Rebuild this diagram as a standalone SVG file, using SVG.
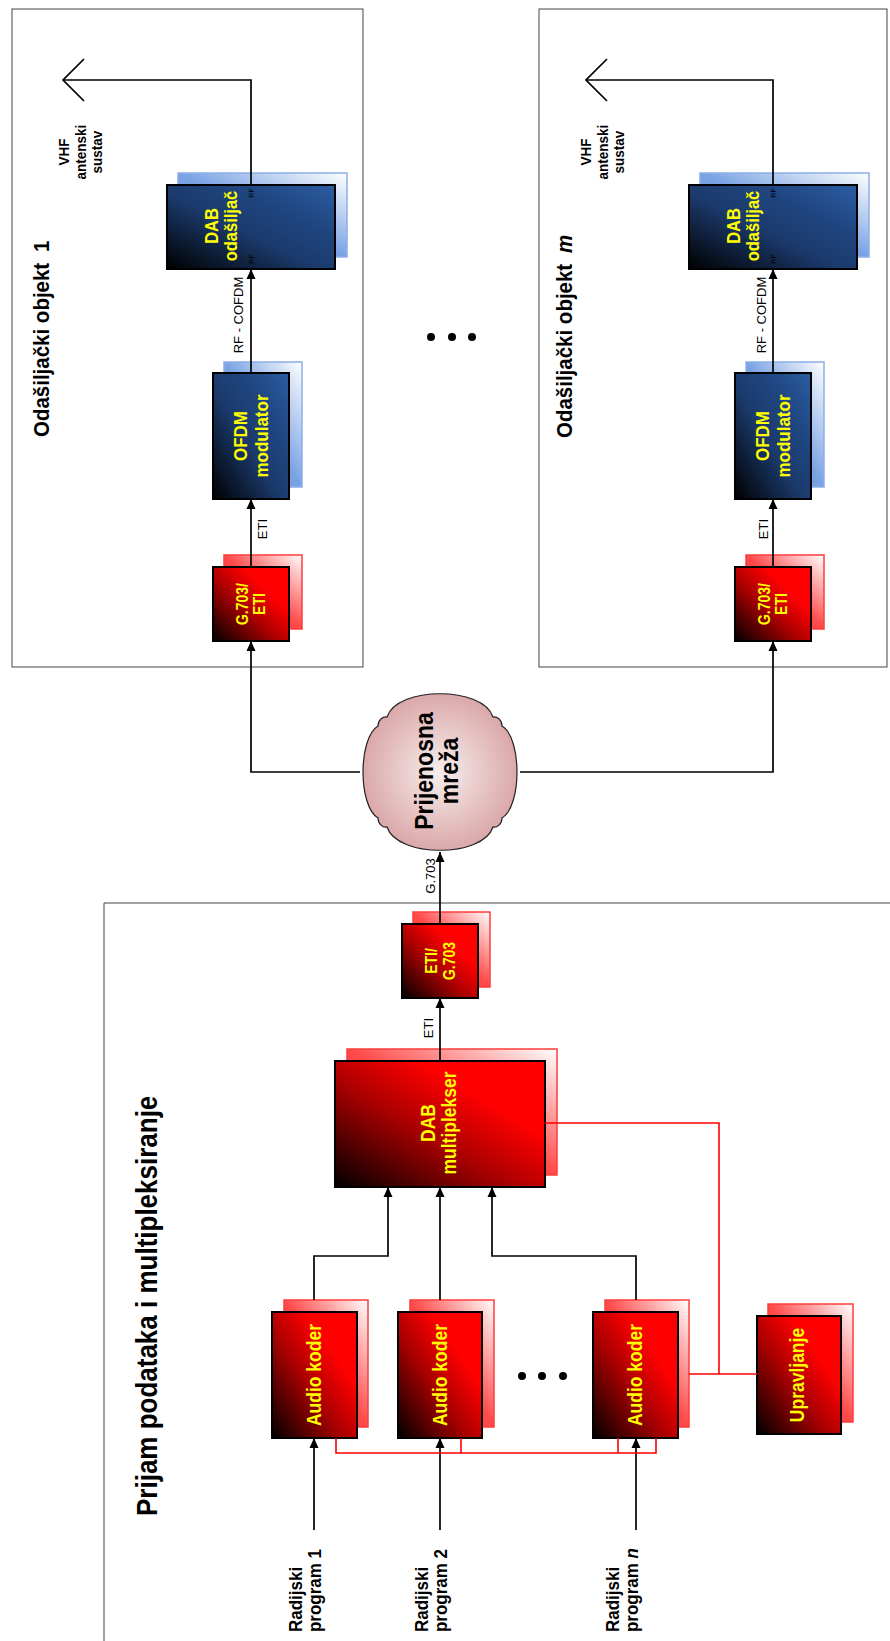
<svg xmlns="http://www.w3.org/2000/svg" width="890" height="1641" viewBox="0 0 890 1641">
<defs>
  <linearGradient id="gRed" x1="0" y1="1" x2="1" y2="0">
    <stop offset="0" stop-color="#000000"/>
    <stop offset="0.42" stop-color="#a80000"/>
    <stop offset="0.7" stop-color="#ff0000"/>
    <stop offset="1" stop-color="#ff0000"/>
  </linearGradient>
  <linearGradient id="gRedSh" x1="0" y1="1" x2="1" y2="0">
    <stop offset="0" stop-color="#ff2a2a"/>
    <stop offset="0.5" stop-color="#ff4a4a"/>
    <stop offset="1" stop-color="#ffffff"/>
  </linearGradient>
  <linearGradient id="gBlue" x1="0" y1="1" x2="1" y2="0">
    <stop offset="0" stop-color="#000000"/>
    <stop offset="0.45" stop-color="#1b3a6c"/>
    <stop offset="0.7" stop-color="#1f4680"/>
    <stop offset="1" stop-color="#2b5ca3"/>
  </linearGradient>
  <linearGradient id="gBlueSh" x1="0" y1="1" x2="1" y2="0">
    <stop offset="0" stop-color="#5f8fdc"/>
    <stop offset="0.5" stop-color="#7aa3e4"/>
    <stop offset="1" stop-color="#ffffff"/>
  </linearGradient>
  <radialGradient id="gCloud" cx="0.5" cy="0.5" r="0.55">
    <stop offset="0" stop-color="#f8eeee"/>
    <stop offset="1" stop-color="#d8a2a2"/>
  </radialGradient>
  <marker id="arr" markerUnits="userSpaceOnUse" markerWidth="10" markerHeight="10" refX="10" refY="5" orient="auto">
    <path d="M0,0.5 L10,5 L0,9.5 z" fill="#000"/>
  </marker>
  <style>
    text { font-family: "Liberation Sans", Arial, sans-serif; }
    .frame { fill: none; stroke: #444; stroke-width: 1; }
    .rbox { fill: url(#gRed); stroke: #000; stroke-width: 2; }
    .rsh { fill: url(#gRedSh); stroke: #ff3c3c; stroke-width: 1.5; }
    .bbox { fill: url(#gBlue); stroke: #000; stroke-width: 2; }
    .bsh { fill: url(#gBlueSh); stroke: #8caee6; stroke-width: 1.5; }
    .yt { fill: #ffff00; font-weight: bold; text-anchor: middle; }
    .ln { fill: none; stroke: #000; stroke-width: 1.7; }
    .rl { fill: none; stroke: #ff0000; stroke-width: 1.6; }
    .title { font-weight: bold; font-size: 20.5px; fill: #000; }
    .lab { font-size: 13px; fill: #000; text-anchor: middle; }
    .vhf { font-weight: bold; font-size: 13.5px; fill: #000; text-anchor: middle; }
    .rf { font-size: 7px; fill: #000; text-anchor: middle; }
    .prog { font-weight: bold; font-size: 17px; fill: #000; }
    .dot { fill: #000; }
  </style>
</defs>

<rect width="890" height="1641" fill="#ffffff"/>

<!-- Site 1 -->
<g id="site-1">
  <rect class="frame" x="12" y="9" width="351" height="658"/>
  <text class="title" x="49" y="437" transform="translate(49 437) rotate(-90) scale(1 1.12) translate(-49 -437)">Odašiljački objekt <tspan dx="5">1</tspan></text>
</g>
<g id="antenna-1">
  <polyline class="ln" points="84,59 63,80 84,101"/>
  <text class="vhf" x="69" y="152" transform="translate(69 152) rotate(-90) scale(1 1.12) translate(-69 -152)">VHF</text>
  <text class="vhf" x="86" y="152" transform="translate(86 152) rotate(-90) scale(1 1.12) translate(-86 -152)">antenski</text>
  <text class="vhf" x="102" y="152" transform="translate(102 152) rotate(-90) scale(1 1.12) translate(-102 -152)">sustav</text>
</g>
<g id="dab-tx-1">
  <rect class="bsh" x="178" y="173" width="169" height="84"/>
  <rect class="bbox" x="167" y="185" width="168" height="84"/>
  <text class="yt" font-size="16.5" x="218" y="226" transform="translate(218 226) rotate(-90) scale(1 1.12) translate(-218 -226)">DAB</text>
  <text class="yt" font-size="16.5" x="237" y="226" transform="translate(237 226) rotate(-90) scale(1 1.12) translate(-237 -226)">odašiljač</text>
  <text class="rf" x="254" y="193" transform="rotate(-90 254 193)">RF</text>
  <text class="rf" x="254" y="259" transform="rotate(-90 254 259)">RF</text>
</g>
<g id="ofdm-1">
  <rect class="bsh" x="224" y="362" width="78" height="125"/>
  <rect class="bbox" x="213" y="373" width="76" height="126"/>
  <text class="yt" font-size="17" x="247" y="436" transform="translate(247 436) rotate(-90) scale(1 1.12) translate(-247 -436)">OFDM</text>
  <text class="yt" font-size="17" x="268" y="436" transform="translate(268 436) rotate(-90) scale(1 1.12) translate(-268 -436)">modulator</text>
</g>
<g id="g703-eti-1">
  <rect class="rsh" x="224" y="555" width="78" height="74"/>
  <rect class="rbox" x="213" y="567" width="76" height="74"/>
  <text class="yt" font-size="14" x="248" y="604" transform="translate(248 604) rotate(-90) scale(1 1.12) translate(-248 -604)">G.703/</text>
  <text class="yt" font-size="14" x="265" y="604" transform="translate(265 604) rotate(-90) scale(1 1.12) translate(-265 -604)">ETI</text>
</g>

<!-- Site m -->
<g id="site-m">
  <rect class="frame" x="539" y="9" width="348" height="658"/>
  <text class="title" x="572" y="438" transform="translate(572 438) rotate(-90) scale(1 1.12) translate(-572 -438)">Odašiljački objekt <tspan dx="5" font-style="italic">m</tspan></text>
</g>
<g id="antenna-m">
  <polyline class="ln" points="607,59 586,80 607,101"/>
  <text class="vhf" x="591" y="152" transform="translate(591 152) rotate(-90) scale(1 1.12) translate(-591 -152)">VHF</text>
  <text class="vhf" x="608" y="152" transform="translate(608 152) rotate(-90) scale(1 1.12) translate(-608 -152)">antenski</text>
  <text class="vhf" x="624" y="152" transform="translate(624 152) rotate(-90) scale(1 1.12) translate(-624 -152)">sustav</text>
</g>
<g id="dab-tx-m">
  <rect class="bsh" x="700" y="173" width="169" height="84"/>
  <rect class="bbox" x="689" y="185" width="168" height="84"/>
  <text class="yt" font-size="16.5" x="740" y="226" transform="translate(740 226) rotate(-90) scale(1 1.12) translate(-740 -226)">DAB</text>
  <text class="yt" font-size="16.5" x="759" y="226" transform="translate(759 226) rotate(-90) scale(1 1.12) translate(-759 -226)">odašiljač</text>
  <text class="rf" x="776" y="193" transform="rotate(-90 776 193)">RF</text>
  <text class="rf" x="776" y="259" transform="rotate(-90 776 259)">RF</text>
</g>
<g id="ofdm-m">
  <rect class="bsh" x="746" y="362" width="78" height="125"/>
  <rect class="bbox" x="735" y="373" width="76" height="126"/>
  <text class="yt" font-size="17" x="769" y="436" transform="translate(769 436) rotate(-90) scale(1 1.12) translate(-769 -436)">OFDM</text>
  <text class="yt" font-size="17" x="790" y="436" transform="translate(790 436) rotate(-90) scale(1 1.12) translate(-790 -436)">modulator</text>
</g>
<g id="g703-eti-m">
  <rect class="rsh" x="746" y="555" width="78" height="74"/>
  <rect class="rbox" x="735" y="567" width="76" height="74"/>
  <text class="yt" font-size="14" x="770" y="604" transform="translate(770 604) rotate(-90) scale(1 1.12) translate(-770 -604)">G.703/</text>
  <text class="yt" font-size="14" x="787" y="604" transform="translate(787 604) rotate(-90) scale(1 1.12) translate(-787 -604)">ETI</text>
</g>

<g id="sites-ellipsis">
  <circle class="dot" cx="431" cy="337" r="4"/>
  <circle class="dot" cx="452" cy="337" r="4"/>
  <circle class="dot" cx="472" cy="337" r="4"/>
</g>

<!-- Network cloud -->
<g id="network">
  <path d="M387,717 C397,686 483,686 493,717 C497,716 502,720 502,726 C522,738 522,806 502,818 C502,824 497,828 493,827 C483,858 397,858 387,827 C383,828 378,824 378,818 C358,806 358,738 378,726 C378,720 383,716 387,717 Z" fill="url(#gCloud)" stroke="#222" stroke-width="1.2"/>
  <text x="433" y="771" font-size="23" font-weight="bold" text-anchor="middle" transform="translate(433 771) rotate(-90) scale(1 1.1) translate(-433 -771)">Prijenosna</text>
  <text x="458" y="771" font-size="23" font-weight="bold" text-anchor="middle" transform="translate(458 771) rotate(-90) scale(1 1.1) translate(-458 -771)">mreža</text>
</g>

<!-- Lower section -->
<g id="mux-site">
  <path class="frame" d="M895,903 H104 V1650"/>
  <text x="157" y="1516" font-size="26" font-weight="bold" transform="translate(157 1516) rotate(-90) scale(1 1.12) translate(-157 -1516)">Prijam podataka i multipleksiranje</text>
</g>
<g id="eti-g703">
  <rect class="rsh" x="413" y="912" width="77" height="75"/>
  <rect class="rbox" x="402" y="924" width="76" height="74"/>
  <text class="yt" font-size="14" x="437" y="961" transform="translate(437 961) rotate(-90) scale(1 1.12) translate(-437 -961)">ETI/</text>
  <text class="yt" font-size="14" x="455" y="961" transform="translate(455 961) rotate(-90) scale(1 1.12) translate(-455 -961)">G.703</text>
</g>
<g id="dab-mux">
  <rect class="rsh" x="347" y="1049" width="210" height="126"/>
  <rect class="rbox" x="335" y="1061" width="210" height="126"/>
  <text class="yt" font-size="17.5" x="435" y="1123" transform="translate(435 1123) rotate(-90) scale(1 1.12) translate(-435 -1123)">DAB</text>
  <text class="yt" font-size="17.5" x="456" y="1123" transform="translate(456 1123) rotate(-90) scale(1 1.12) translate(-456 -1123)">multiplekser</text>
</g>
<g id="audio-coder-1">
  <rect class="rsh" x="284" y="1300" width="84" height="127"/>
  <rect class="rbox" x="272" y="1312" width="85" height="126"/>
  <text class="yt" font-size="17.5" x="321" y="1375" transform="translate(321 1375) rotate(-90) scale(1 1.12) translate(-321 -1375)">Audio koder</text>
</g>
<g id="audio-coder-2">
  <rect class="rsh" x="410" y="1300" width="84" height="127"/>
  <rect class="rbox" x="398" y="1312" width="84" height="126"/>
  <text class="yt" font-size="17.5" x="447" y="1375" transform="translate(447 1375) rotate(-90) scale(1 1.12) translate(-447 -1375)">Audio koder</text>
</g>
<g id="audio-coder-n">
  <rect class="rsh" x="605" y="1300" width="84" height="127"/>
  <rect class="rbox" x="593" y="1312" width="85" height="126"/>
  <text class="yt" font-size="17.5" x="642" y="1375" transform="translate(642 1375) rotate(-90) scale(1 1.12) translate(-642 -1375)">Audio koder</text>
</g>
<g id="control">
  <rect class="rsh" x="768" y="1304" width="85" height="118"/>
  <rect class="rbox" x="757" y="1316" width="84" height="118"/>
  <text class="yt" font-size="17.5" x="804" y="1375" transform="translate(804 1375) rotate(-90) scale(1 1.12) translate(-804 -1375)">Upravljanje</text>
</g>
<g id="coders-ellipsis">
  <circle class="dot" cx="522" cy="1376" r="4"/>
  <circle class="dot" cx="542" cy="1376" r="4"/>
  <circle class="dot" cx="563" cy="1376" r="4"/>
</g>
<g id="program-1">
  <text class="prog" x="302" y="1632" transform="translate(302 1632) rotate(-90) scale(1 1.12) translate(-302 -1632)">Radijski</text>
  <text class="prog" x="321" y="1632" transform="translate(321 1632) rotate(-90) scale(1 1.12) translate(-321 -1632)">program 1</text>
</g>
<g id="program-2">
  <text class="prog" x="428" y="1632" transform="translate(428 1632) rotate(-90) scale(1 1.12) translate(-428 -1632)">Radijski</text>
  <text class="prog" x="447" y="1632" transform="translate(447 1632) rotate(-90) scale(1 1.12) translate(-447 -1632)">program 2</text>
</g>
<g id="program-n">
  <text class="prog" x="619" y="1632" transform="translate(619 1632) rotate(-90) scale(1 1.12) translate(-619 -1632)">Radijski</text>
  <text class="prog" x="638" y="1632" transform="translate(638 1632) rotate(-90) scale(1 1.12) translate(-638 -1632)">program <tspan font-style="italic">n</tspan></text>
</g>

<!-- Connectors -->
<g id="connectors">
  <!-- site 1 -->
  <polyline class="ln" points="63,80 251,80 251,185"/>
  <line class="ln" x1="251" y1="373" x2="251" y2="269" marker-end="url(#arr)"/>
  <line class="ln" x1="251" y1="567" x2="251" y2="499" marker-end="url(#arr)"/>
  <polyline class="ln" points="360,772 251,772 251,641" marker-end="url(#arr)"/>
  <text class="lab" x="243" y="315" transform="rotate(-90 243 315)">RF - COFDM</text>
  <text class="lab" x="267" y="529" transform="rotate(-90 267 529)" font-size="12.5">ETI</text>
  <!-- site m -->
  <polyline class="ln" points="586,80 773,80 773,185"/>
  <line class="ln" x1="773" y1="373" x2="773" y2="269" marker-end="url(#arr)"/>
  <line class="ln" x1="773" y1="567" x2="773" y2="499" marker-end="url(#arr)"/>
  <polyline class="ln" points="520,772 773,772 773,641" marker-end="url(#arr)"/>
  <text class="lab" x="766" y="315" transform="rotate(-90 766 315)">RF - COFDM</text>
  <text class="lab" x="768" y="529" transform="rotate(-90 768 529)" font-size="12.5">ETI</text>
  <!-- mux -> network -->
  <line class="ln" x1="440" y1="924" x2="440" y2="852" marker-end="url(#arr)"/>
  <text class="lab" x="435" y="876" transform="rotate(-90 435 876)">G.703</text>
  <line class="ln" x1="440" y1="1061" x2="440" y2="998" marker-end="url(#arr)"/>
  <text class="lab" x="433" y="1028" transform="rotate(-90 433 1028)" font-size="12.5">ETI</text>
  <!-- coders -> mux -->
  <polyline class="ln" points="314,1300 314,1256 388,1256 388,1187" marker-end="url(#arr)"/>
  <line class="ln" x1="440" y1="1300" x2="440" y2="1187" marker-end="url(#arr)"/>
  <polyline class="ln" points="636,1300 636,1256 492,1256 492,1187" marker-end="url(#arr)"/>
  <!-- programs -> coders -->
  <line class="ln" x1="314" y1="1530" x2="314" y2="1438" marker-end="url(#arr)"/>
  <line class="ln" x1="440" y1="1530" x2="440" y2="1438" marker-end="url(#arr)"/>
  <line class="ln" x1="636" y1="1530" x2="636" y2="1438" marker-end="url(#arr)"/>
  <!-- control (red) -->
  <polyline class="rl" points="545,1123 719,1123 719,1374"/>
  <line class="rl" x1="689" y1="1374" x2="757" y2="1374"/>
  <polyline class="rl" points="336,1438 336,1453 656,1453 656,1438"/>
  <line class="rl" x1="461" y1="1438" x2="461" y2="1453"/>
  <line class="rl" x1="618" y1="1438" x2="618" y2="1453"/>
</g>
</svg>
